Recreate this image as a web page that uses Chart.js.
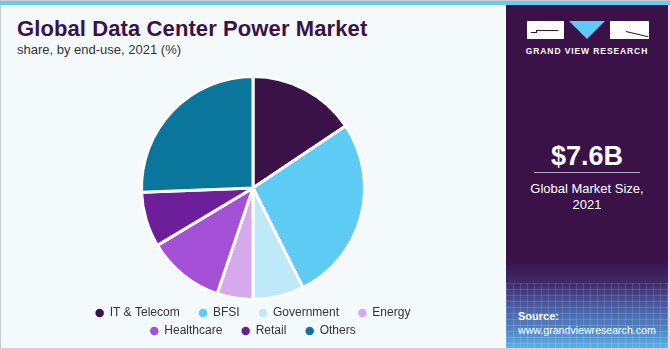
<!DOCTYPE html>
<html>
<head>
<meta charset="utf-8">
<script src="https://cdn.jsdelivr.net/npm/chart.js@4/dist/chart.umd.min.js"></script>
<style>
  html, body { margin: 0; padding: 0; }
  body { width: 670px; height: 350px; position: relative; overflow: hidden; background: #f4f9fc; font-family: "Liberation Sans", Arial, sans-serif; }
  #frame { position: absolute; left: 0; top: 0; width: 670px; height: 350px; box-sizing: border-box; border-left: 1px solid #c9ccd0; border-bottom: 2px solid #cfd2d6; border-right: 2px solid #dfe2e8; }
  #topbar { position: absolute; left: 0; top: 0; width: 670px; height: 4px; background: #66cbf3; border-top: 1px solid #c9ccd0; }
  #title { position: absolute; left: 17px; top: 16px; font-size: 22px; font-weight: bold; color: #3a1248; white-space: nowrap; letter-spacing: 0.1px; }
  #subtitle { position: absolute; left: 17px; top: 42px; font-size: 13px; color: #333; white-space: nowrap; }
  #panel { position: absolute; left: 506px; top: 5px; width: 162px; height: 343px; background: linear-gradient(to bottom, #3a1248 0px, #3a1248 255px, #3f2a68 278px, #4a5aa0 300px, #4f86c6 325px, #5cb2e6 343px); overflow: hidden; }
  #grid { position: absolute; left: 0; top: 278px; width: 162px; height: 65px;
    background-image: repeating-linear-gradient(to right, rgba(255,255,255,0.13) 0px, rgba(255,255,255,0.13) 1px, transparent 1px, transparent 7px),
                      repeating-linear-gradient(to bottom, rgba(255,255,255,0.13) 0px, rgba(255,255,255,0.13) 1px, transparent 1px, transparent 6px); }
  #gvr { position: absolute; left: 0; width: 162px; top: 41px; text-align: center; font-size: 8.5px; font-weight: bold; color: #fff; letter-spacing: 0.9px; white-space: nowrap; }
  #value { position: absolute; left: 0; width: 162px; top: 136px; text-align: center; font-size: 27px; font-weight: bold; color: #fff; }
  #rule { position: absolute; left: 28px; width: 106px; top: 167px; height: 1px; background: #b9a9cc; }
  #desc { position: absolute; left: 0; width: 162px; top: 176px; text-align: center; font-size: 13px; color: #fff; line-height: 16px; }
  #src1 { position: absolute; left: 12px; top: 305px; font-size: 11px; font-weight: bold; color: #fff; }
  #src2 { position: absolute; left: 12px; top: 319px; font-size: 10.6px; color: #fff; white-space: nowrap; }
  #chartbox { position: absolute; left: 0; top: 69px; width: 506px; height: 278px; }
  #logo { position: absolute; left: 527px; top: 21px; width: 122px; height: 18px; z-index: 5; }
</style>
</head>
<body>
<div id="frame"></div>
<div id="topbar"></div>
<div id="title">Global Data Center Power Market</div>
<div id="subtitle">share, by end-use, 2021 (%)</div>
<div id="chartbox"><canvas id="c"></canvas></div>
<div id="panel">
  <div id="grid"></div>
  <div id="gvr">GRAND VIEW RESEARCH</div>
  <div id="value">$7.6B</div>
  <div id="rule"></div>
  <div id="desc">Global Market Size,<br>2021</div>
  <div id="src1">Source:</div>
  <div id="src2">www.grandviewresearch.com</div>
</div>
<div id="logo">
  <div style="position:absolute; left:0; top:0; width:37px; height:18px; background-color:#ffffff;"></div>
  <div style="position:absolute; left:4px; top:11px; width:6px; height:1px; background-color:#3a1248;"></div>
  <div style="position:absolute; left:9px; top:9px; width:1px; height:3px; background-color:#3a1248;"></div>
  <div style="position:absolute; left:9px; top:9px; width:22px; height:1px; background-color:#3a1248;"></div>
  <div style="position:absolute; left:42px; top:0; width:0; height:0; border-left:18.5px solid transparent; border-right:18.5px solid transparent; border-top:18px solid #5ecbf5;"></div>
  <div style="position:absolute; left:83px; top:0; width:39px; height:18px; background-color:#ffffff;"></div>
  <div style="position:absolute; left:99px; top:10px; width:23px; height:1px; background-color:#3a1248; transform:rotate(13deg); transform-origin:0 0;"></div>
</div>
<script>
const categories = ["IT & Telecom", "BFSI", "Government", "Energy", "Healthcare", "Retail", "Others"];
const shares = [15.6, 27.0, 7.4, 5.2, 11.2, 8.0, 25.6];
const sliceColors = ["#3a1248", "#5ecbf5", "#bde9f9", "#d5a9ec", "#a34fd6", "#6d1f9b", "#0b769c"];
const rowEnds = ["Energy", "Others"];

new Chart(document.getElementById('c'), {
  type: 'pie',
  data: {
    labels: categories,
    datasets: [{
      data: shares,
      backgroundColor: sliceColors,
      borderColor: '#ffffff',
      borderWidth: 3,
      hoverOffset: 0
    }]
  },
  options: {
    responsive: true,
    maintainAspectRatio: false,
    animation: false,
    layout: { padding: { top: 6, bottom: 0, left: 60, right: 60 } },
    plugins: {
      tooltip: { enabled: false },
      legend: {
        position: 'bottom',
        labels: {
          usePointStyle: true,
          pointStyle: 'circle',
          boxWidth: 8,
          boxHeight: 6,
          padding: 6,
          color: '#333333',
          font: { family: '"Liberation Sans", Arial, sans-serif', size: 12 },
          generateLabels(chart) {
            const items = Chart.overrides.pie.plugins.legend.labels.generateLabels(chart);
            items.forEach(it => {
              if (!rowEnds.includes(it.text)) it.text = it.text + '    ';
              it.lineWidth = 0; it.strokeStyle = it.fillStyle;
            });
            return items;
          }
        }
      }
    }
  }
});
</script>
</body>
</html>
